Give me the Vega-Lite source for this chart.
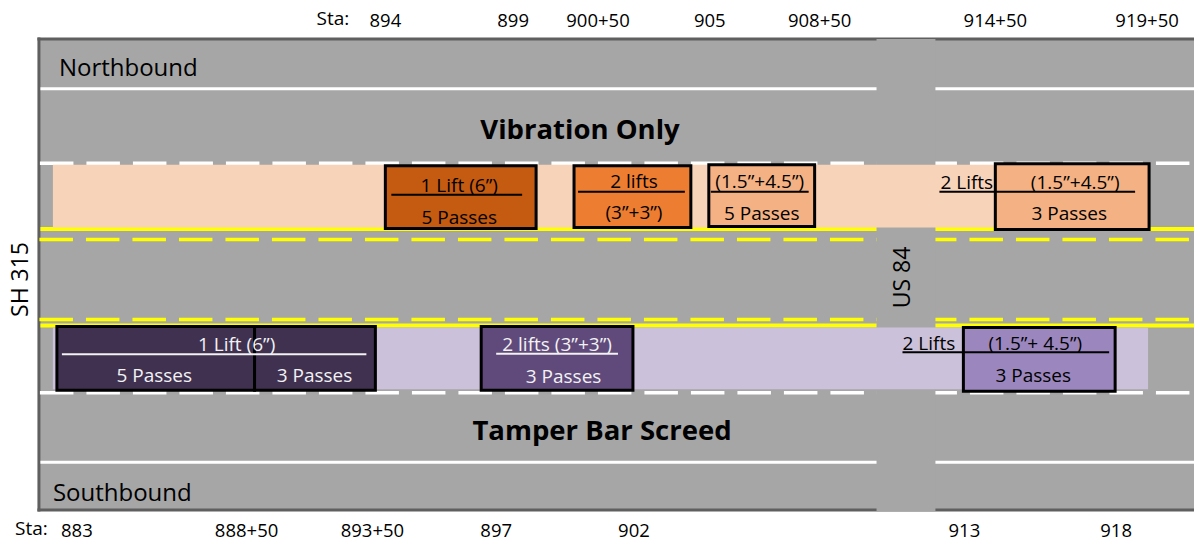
{
  "$schema": "https://vega.github.io/schema/vega-lite/v6.json",
  "width": 1196,
  "height": 541,
  "autosize": {"type": "fit", "contains": "padding"},
  "padding": 0,
  "background": "white",
  "config": {"view": {"stroke": null}, "text": {"font": "Open Sans"}},
  "resolve": {"scale": {"color": "independent"}},
  "layer": [
    {
      "data": {"values": [{"part": "pavement", "x": 39, "x2": 1196, "y": 39, "y2": 511}]},
      "mark": {"type": "rect", "fill": "#a6a6a6"},
      "encoding": {
        "x": {"field": "x", "type": "quantitative", "scale": {"domain": [0, 1196], "nice": false, "zero": false}, "axis": null},
        "x2": {"field": "x2"},
        "y": {"field": "y", "type": "quantitative", "scale": {"domain": [0, 541], "nice": false, "zero": false, "reverse": true}, "axis": null},
        "y2": {"field": "y2"}
      }
    },
    {
      "data": {"values": [
        {"edge": "top", "x": 37.5, "x2": 1196, "y": 39, "y2": 39},
        {"edge": "left", "x": 39, "x2": 39, "y": 37.5, "y2": 512.5},
        {"edge": "bottom", "x": 37.5, "x2": 1196, "y": 511, "y2": 511}
      ]},
      "mark": {"type": "rule", "stroke": "#5f5f5f", "strokeWidth": 3},
      "encoding": {
        "x": {"field": "x", "type": "quantitative", "scale": {"domain": [0, 1196], "nice": false, "zero": false}, "axis": null},
        "x2": {"field": "x2"},
        "y": {"field": "y", "type": "quantitative", "scale": {"domain": [0, 541], "nice": false, "zero": false, "reverse": true}, "axis": null},
        "y2": {"field": "y2"}
      }
    },
    {
      "data": {"values": [
        {"line": "NB edge", "x": 40.5, "x2": 1196, "y": 89, "y2": 89},
        {"line": "SB edge", "x": 40.5, "x2": 1196, "y": 463, "y2": 463}
      ]},
      "mark": {"type": "rule", "stroke": "white", "strokeWidth": 3},
      "encoding": {
        "x": {"field": "x", "type": "quantitative", "scale": {"domain": [0, 1196], "nice": false, "zero": false}, "axis": null},
        "x2": {"field": "x2"},
        "y": {"field": "y", "type": "quantitative", "scale": {"domain": [0, 541], "nice": false, "zero": false, "reverse": true}, "axis": null},
        "y2": {"field": "y2"}
      }
    },
    {
      "data": {"values": [
        {"line": "NB lane", "x": 40, "x2": 1196, "y": 163.5, "y2": 163.5},
        {"line": "SB lane", "x": 40, "x2": 1196, "y": 393.5, "y2": 393.5}
      ]},
      "mark": {"type": "rule", "stroke": "white", "strokeWidth": 3.5, "strokeDash": [33.5, 13]},
      "encoding": {
        "x": {"field": "x", "type": "quantitative", "scale": {"domain": [0, 1196], "nice": false, "zero": false}, "axis": null},
        "x2": {"field": "x2"},
        "y": {"field": "y", "type": "quantitative", "scale": {"domain": [0, 541], "nice": false, "zero": false, "reverse": true}, "axis": null},
        "y2": {"field": "y2"}
      }
    },
    {
      "data": {"values": [
        {"line": "NB centre solid", "x": 40.5, "x2": 1196, "y": 229.5, "y2": 229.5},
        {"line": "SB centre solid", "x": 40.5, "x2": 1196, "y": 326, "y2": 326}
      ]},
      "mark": {"type": "rule", "stroke": "#ffff00", "strokeWidth": 4},
      "encoding": {
        "x": {"field": "x", "type": "quantitative", "scale": {"domain": [0, 1196], "nice": false, "zero": false}, "axis": null},
        "x2": {"field": "x2"},
        "y": {"field": "y", "type": "quantitative", "scale": {"domain": [0, 541], "nice": false, "zero": false, "reverse": true}, "axis": null},
        "y2": {"field": "y2"}
      }
    },
    {
      "data": {"values": [
        {"line": "NB centre dashed", "x": 39.5, "x2": 1196, "y": 240, "y2": 240},
        {"line": "SB centre dashed", "x": 39.5, "x2": 1196, "y": 320, "y2": 320}
      ]},
      "mark": {"type": "rule", "stroke": "#ffff00", "strokeWidth": 3.5, "strokeDash": [33.5, 13]},
      "encoding": {
        "x": {"field": "x", "type": "quantitative", "scale": {"domain": [0, 1196], "nice": false, "zero": false}, "axis": null},
        "x2": {"field": "x2"},
        "y": {"field": "y", "type": "quantitative", "scale": {"domain": [0, 541], "nice": false, "zero": false, "reverse": true}, "axis": null},
        "y2": {"field": "y2"}
      }
    },
    {
      "data": {"values": [{"part": "US 84 crossing", "x": 878, "x2": 937, "y": 39, "y2": 512}]},
      "mark": {"type": "rect", "fill": "#a6a6a6"},
      "encoding": {
        "x": {"field": "x", "type": "quantitative", "scale": {"domain": [0, 1196], "nice": false, "zero": false}, "axis": null},
        "x2": {"field": "x2"},
        "y": {"field": "y", "type": "quantitative", "scale": {"domain": [0, 541], "nice": false, "zero": false, "reverse": true}, "axis": null},
        "y2": {"field": "y2"}
      }
    },
    {
      "data": {"values": [
        {"band": "Vibration lane", "x": 53, "x2": 1150, "y": 165, "y2": 228},
        {"band": "Tamper lane", "x": 53, "x2": 1150, "y": 328, "y2": 390}
      ]},
      "mark": {"type": "rect"},
      "encoding": {
        "x": {"field": "x", "type": "quantitative", "scale": {"domain": [0, 1196], "nice": false, "zero": false}, "axis": null},
        "x2": {"field": "x2"},
        "y": {"field": "y", "type": "quantitative", "scale": {"domain": [0, 541], "nice": false, "zero": false, "reverse": true}, "axis": null},
        "y2": {"field": "y2"},
        "color": {"field": "band", "type": "nominal", "scale": {"domain": ["Vibration lane", "Tamper lane"], "range": ["#f7d3ba", "#ccc1da"]}, "legend": null}
      }
    },
    {
      "data": {"values": [
        {"section": "VO 1 lift 5 passes", "x": 386, "x2": 537, "y": 166, "y2": 229},
        {"section": "VO 2 lifts 3+3", "x": 575, "x2": 692, "y": 166, "y2": 228},
        {"section": "VO 2 lifts 1.5+4.5 5 passes", "x": 710, "x2": 816, "y": 165, "y2": 227},
        {"section": "VO 2 lifts 1.5+4.5 3 passes", "x": 997, "x2": 1151, "y": 164, "y2": 230},
        {"section": "TB 1 lift 5 passes", "x": 57, "x2": 255, "y": 327, "y2": 391},
        {"section": "TB 1 lift 3 passes", "x": 255, "x2": 376, "y": 327, "y2": 391},
        {"section": "TB 2 lifts 3+3", "x": 482, "x2": 634, "y": 327, "y2": 391},
        {"section": "TB 2 lifts 1.5+4.5", "x": 965, "x2": 1117, "y": 328, "y2": 392}
      ]},
      "mark": {"type": "rect", "stroke": "black", "strokeWidth": 3},
      "encoding": {
        "x": {"field": "x", "type": "quantitative", "scale": {"domain": [0, 1196], "nice": false, "zero": false}, "axis": null},
        "x2": {"field": "x2"},
        "y": {"field": "y", "type": "quantitative", "scale": {"domain": [0, 541], "nice": false, "zero": false, "reverse": true}, "axis": null},
        "y2": {"field": "y2"},
        "color": {
          "field": "section", "type": "nominal", "legend": null,
          "scale": {
            "domain": ["VO 1 lift 5 passes", "VO 2 lifts 3+3", "VO 2 lifts 1.5+4.5 5 passes", "VO 2 lifts 1.5+4.5 3 passes", "TB 1 lift 5 passes", "TB 1 lift 3 passes", "TB 2 lifts 3+3", "TB 2 lifts 1.5+4.5"],
            "range": ["#c55a11", "#ed7d31", "#f4b183", "#f4b183", "#403151", "#403151", "#604a7b", "#9b87bd"]
          }
        }
      }
    },
    {
      "data": {"values": [
        {"rule": "A", "x": 392, "x2": 523, "y": 195, "y2": 195},
        {"rule": "B", "x": 579, "x2": 686, "y": 192, "y2": 192},
        {"rule": "C", "x": 712, "x2": 810, "y": 192, "y2": 192},
        {"rule": "D", "x": 941, "x2": 1137, "y": 192, "y2": 192},
        {"rule": "G", "x": 904, "x2": 1111, "y": 353, "y2": 353}
      ]},
      "mark": {"type": "rule", "stroke": "black", "strokeWidth": 2},
      "encoding": {
        "x": {"field": "x", "type": "quantitative", "scale": {"domain": [0, 1196], "nice": false, "zero": false}, "axis": null},
        "x2": {"field": "x2"},
        "y": {"field": "y", "type": "quantitative", "scale": {"domain": [0, 541], "nice": false, "zero": false, "reverse": true}, "axis": null},
        "y2": {"field": "y2"}
      }
    },
    {
      "data": {"values": [
        {"rule": "E", "x": 62, "x2": 367, "y": 355, "y2": 355},
        {"rule": "F", "x": 497, "x2": 619, "y": 354.5, "y2": 354.5}
      ]},
      "mark": {"type": "rule", "stroke": "#f2f2f2", "strokeWidth": 2},
      "encoding": {
        "x": {"field": "x", "type": "quantitative", "scale": {"domain": [0, 1196], "nice": false, "zero": false}, "axis": null},
        "x2": {"field": "x2"},
        "y": {"field": "y", "type": "quantitative", "scale": {"domain": [0, 541], "nice": false, "zero": false, "reverse": true}, "axis": null},
        "y2": {"field": "y2"}
      }
    },
    {
      "data": {"values": [
        {"label": "894", "x": 386, "y": 27},
        {"label": "899", "x": 514, "y": 27},
        {"label": "900+50", "x": 599, "y": 27},
        {"label": "905", "x": 711, "y": 27},
        {"label": "908+50", "x": 821, "y": 27},
        {"label": "914+50", "x": 997, "y": 27},
        {"label": "919+50", "x": 1149, "y": 27},
        {"label": "883", "x": 77, "y": 538},
        {"label": "888+50", "x": 247, "y": 538},
        {"label": "893+50", "x": 373, "y": 538},
        {"label": "897", "x": 497, "y": 538},
        {"label": "902", "x": 635, "y": 538},
        {"label": "913", "x": 966, "y": 538},
        {"label": "918", "x": 1118, "y": 538}
      ]},
      "mark": {"type": "text", "fontSize": 18.5, "align": "center", "baseline": "alphabetic", "color": "black"},
      "encoding": {
        "x": {"field": "x", "type": "quantitative", "scale": {"domain": [0, 1196], "nice": false, "zero": false}, "axis": null},
        "y": {"field": "y", "type": "quantitative", "scale": {"domain": [0, 541], "nice": false, "zero": false, "reverse": true}, "axis": null},
        "text": {"field": "label"}
      }
    },
    {
      "data": {"values": [
        {"label": "1 Lift (6”)", "x": 460, "y": 192},
        {"label": "5 Passes", "x": 460, "y": 224},
        {"label": "2 lifts", "x": 635, "y": 188},
        {"label": "(3”+3”)", "x": 635, "y": 219},
        {"label": "(1.5”+4.5”)", "x": 761, "y": 188},
        {"label": "5 Passes", "x": 763, "y": 220},
        {"label": "(1.5”+4.5”)", "x": 1077, "y": 189},
        {"label": "3 Passes", "x": 1071, "y": 220},
        {"label": "(1.5”+ 4.5”)", "x": 1037, "y": 351},
        {"label": "3 Passes", "x": 1035, "y": 383}
      ]},
      "mark": {"type": "text", "fontSize": 19, "align": "center", "baseline": "alphabetic", "color": "black"},
      "encoding": {
        "x": {"field": "x", "type": "quantitative", "scale": {"domain": [0, 1196], "nice": false, "zero": false}, "axis": null},
        "y": {"field": "y", "type": "quantitative", "scale": {"domain": [0, 541], "nice": false, "zero": false, "reverse": true}, "axis": null},
        "text": {"field": "label"}
      }
    },
    {
      "data": {"values": [
        {"label": "1 Lift (6”)", "x": 237, "y": 351.5},
        {"label": "5 Passes", "x": 154.5, "y": 383},
        {"label": "3 Passes", "x": 315, "y": 383},
        {"label": "2 lifts (3”+3”)", "x": 558, "y": 352},
        {"label": "3 Passes", "x": 564.5, "y": 384}
      ]},
      "mark": {"type": "text", "fontSize": 19, "align": "center", "baseline": "alphabetic", "color": "#f2f2f2"},
      "encoding": {
        "x": {"field": "x", "type": "quantitative", "scale": {"domain": [0, 1196], "nice": false, "zero": false}, "axis": null},
        "y": {"field": "y", "type": "quantitative", "scale": {"domain": [0, 541], "nice": false, "zero": false, "reverse": true}, "axis": null},
        "text": {"field": "label"}
      }
    },
    {
      "data": {"values": [
        {"label": "Sta:", "x": 317, "y": 25},
        {"label": "Sta:", "x": 15, "y": 536},
        {"label": "2 Lifts", "x": 942, "y": 189},
        {"label": "2 Lifts", "x": 904, "y": 351}
      ]},
      "mark": {"type": "text", "fontSize": 19, "align": "left", "baseline": "alphabetic", "color": "black"},
      "encoding": {
        "x": {"field": "x", "type": "quantitative", "scale": {"domain": [0, 1196], "nice": false, "zero": false}, "axis": null},
        "y": {"field": "y", "type": "quantitative", "scale": {"domain": [0, 541], "nice": false, "zero": false, "reverse": true}, "axis": null},
        "text": {"field": "label"}
      }
    },
    {
      "data": {"values": [
        {"label": "Northbound", "x": 59, "y": 76},
        {"label": "Southbound", "x": 53, "y": 502}
      ]},
      "mark": {"type": "text", "fontSize": 24, "align": "left", "baseline": "alphabetic", "color": "black"},
      "encoding": {
        "x": {"field": "x", "type": "quantitative", "scale": {"domain": [0, 1196], "nice": false, "zero": false}, "axis": null},
        "y": {"field": "y", "type": "quantitative", "scale": {"domain": [0, 541], "nice": false, "zero": false, "reverse": true}, "axis": null},
        "text": {"field": "label"}
      }
    },
    {
      "data": {"values": [
        {"label": "Vibration Only", "x": 581, "y": 139},
        {"label": "Tamper Bar Screed", "x": 603, "y": 441}
      ]},
      "mark": {"type": "text", "fontSize": 27.5, "fontWeight": "bold", "align": "center", "baseline": "alphabetic", "color": "black"},
      "encoding": {
        "x": {"field": "x", "type": "quantitative", "scale": {"domain": [0, 1196], "nice": false, "zero": false}, "axis": null},
        "y": {"field": "y", "type": "quantitative", "scale": {"domain": [0, 541], "nice": false, "zero": false, "reverse": true}, "axis": null},
        "text": {"field": "label"}
      }
    },
    {
      "data": {"values": [
        {"label": "SH 315", "x": 21, "y": 280},
        {"label": "US 84", "x": 905, "y": 278}
      ]},
      "mark": {"type": "text", "fontSize": 23, "angle": 270, "align": "center", "baseline": "middle", "color": "black"},
      "encoding": {
        "x": {"field": "x", "type": "quantitative", "scale": {"domain": [0, 1196], "nice": false, "zero": false}, "axis": null},
        "y": {"field": "y", "type": "quantitative", "scale": {"domain": [0, 541], "nice": false, "zero": false, "reverse": true}, "axis": null},
        "text": {"field": "label"}
      }
    }
  ]
}
